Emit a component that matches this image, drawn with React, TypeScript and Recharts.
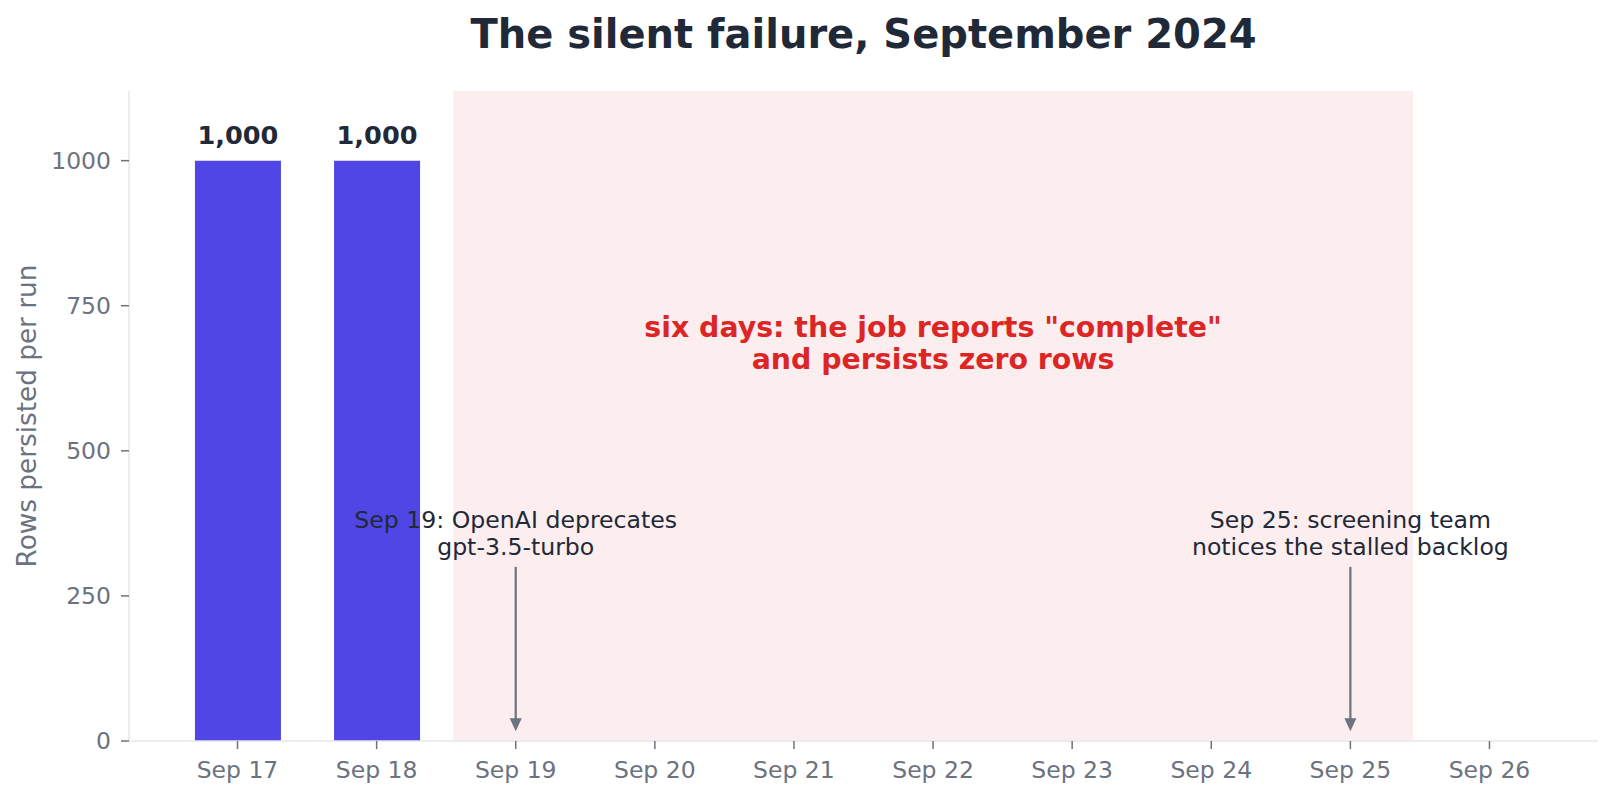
import {
  BarChart,
  Bar,
  XAxis,
  YAxis,
  ReferenceArea,
  ReferenceLine,
  ReferenceDot,
  LabelList,
} from "recharts";

const dates = [
  "Sep 17",
  "Sep 18",
  "Sep 19",
  "Sep 20",
  "Sep 21",
  "Sep 22",
  "Sep 23",
  "Sep 24",
  "Sep 25",
  "Sep 26",
];
const rowsPersisted = [1000, 1000, 0, 0, 0, 0, 0, 0, 0, 0];
const yTicks = [0, 250, 500, 750, 1000];
const xTicks = dates.map((_, i) => i);

// silent window: between Sep 18 and Sep 25 bars
const failureStart = 1.55;
const failureEnd = 8.45;
const failureNote = ['six days: the job reports "complete"', "and persists zero rows"];
const failureNoteAt = { x: 5, y: 685 };

const events = [
  { x: 2, lines: ["Sep 19: OpenAI deprecates", "gpt-3.5-turbo"] },
  { x: 8, lines: ["Sep 25: screening team", "notices the stalled backlog"] },
];
const eventTextY = 320;
const arrowFrom = 300;
const arrowTo = 17;

const data = dates.map((d, i) => ({ idx: i, date: d, rows: rowsPersisted[i] }));

const FONT = "DejaVu Sans";
const GRAY = "#6b7280";
const DARK = "#1f2937";
const AXIS = "#e5e7eb";

function Arrow(props: any) {
  const { x1, y1, x2, y2 } = props;
  const top = Math.min(y1, y2);
  const bottom = Math.max(y1, y2);
  const head = 13;
  return (
    <g>
      <line x1={x1} y1={top} x2={x2} y2={bottom - head + 1} stroke={GRAY} strokeWidth={2.2} />
      <polygon
        points={`${x2},${bottom} ${x2 - 6},${bottom - head} ${x2 + 6},${bottom - head}`}
        fill={GRAY}
      />
    </g>
  );
}

export default function App() {
  return (
    <div style={{ position: "absolute", left: 0, top: 0, width: 1614, height: 799, fontFamily: FONT, background: "#fff" }}>
      <div
        style={{
          position: "absolute",
          left: 129,
          width: 1469,
          top: 14,
          fontSize: 40,
          lineHeight: "40px",
          fontWeight: "bold",
          color: DARK,
          textAlign: "center",
          whiteSpace: "nowrap",
        }}
      >
        The silent failure, September 2024
      </div>
      <BarChart
        width={1614}
        height={799}
        data={data}
        margin={{ top: 91, right: 16, bottom: 0, left: 0 }}
        style={{ position: "absolute", left: 0, top: 0 }}
      >
        <ReferenceArea
          x1={failureStart}
          x2={failureEnd}
          y1={0}
          y2={1120}
          fill="#dc2626"
          fillOpacity={0.08}
          stroke="none"
        />
        <XAxis
          dataKey="idx"
          type="number"
          domain={[-0.78, 9.78]}
          ticks={xTicks}
          interval={0}
          tickFormatter={(v: number) => dates[v] ?? ""}
          height={58}
          axisLine={{ stroke: AXIS, strokeWidth: 1.5 }}
          tickLine={{ stroke: GRAY, strokeWidth: 1.5 }}
          tickSize={8}
          tickMargin={12}
          tick={{ fill: GRAY, fontSize: 23.5, fontFamily: FONT }}
        />
        <YAxis
          type="number"
          domain={[0, 1120]}
          ticks={yTicks}
          interval={0}
          width={129}
          axisLine={{ stroke: AXIS, strokeWidth: 1.5 }}
          tickLine={{ stroke: GRAY, strokeWidth: 1.5 }}
          tickSize={8}
          tickMargin={10}
          tick={{ fill: GRAY, fontSize: 23.5, fontFamily: FONT }}
          label={{
            content: () => (
              <text
                x={36}
                y={416}
                transform="rotate(-90 36 416)"
                textAnchor="middle"
                fontSize={26.3}
                fontFamily={FONT}
                fill={GRAY}
              >
                Rows persisted per run
              </text>
            ),
          }}
        />
        <Bar dataKey="rows" fill="#4f46e5" barSize={86} isAnimationActive={false}>
          <LabelList
            dataKey="rows"
            content={(p: any) =>
              p.value > 0 ? (
                <text
                  x={p.x + p.width / 2}
                  y={p.y - 17}
                  textAnchor="middle"
                  fontSize={25.6}
                  fontWeight="bold"
                  fontFamily={FONT}
                  fill={DARK}
                >
                  {Number(p.value).toLocaleString("en-US")}
                </text>
              ) : null
            }
          />
        </Bar>
        <ReferenceDot
          x={failureNoteAt.x}
          y={failureNoteAt.y}
          r={1}
          shape={(p: any) => (
            <text
              textAnchor="middle"
              fontSize={28.4}
              fontWeight="bold"
              fontFamily={FONT}
              fill="#dc2626"
            >
              <tspan x={p.cx} y={p.cy - 6}>{failureNote[0]}</tspan>
              <tspan x={p.cx} y={p.cy + 26}>{failureNote[1]}</tspan>
            </text>
          )}
        />
        {events.map((ev) => (
          <ReferenceLine
            key={`arrow-${ev.x}`}
            segment={[
              { x: ev.x, y: arrowFrom },
              { x: ev.x, y: arrowTo },
            ]}
            shape={Arrow}
          />
        ))}
        {events.map((ev) => (
          <ReferenceDot
            key={`note-${ev.x}`}
            x={ev.x}
            y={eventTextY}
            r={1}
            shape={(p: any) => (
              <text textAnchor="middle" fontSize={23.6} fontFamily={FONT} fill={DARK}>
                <tspan x={p.cx} y={p.cy - 27}>{ev.lines[0]}</tspan>
                <tspan x={p.cx} y={p.cy - 0.5}>{ev.lines[1]}</tspan>
              </text>
            )}
          />
        ))}
      </BarChart>
    </div>
  );
}
